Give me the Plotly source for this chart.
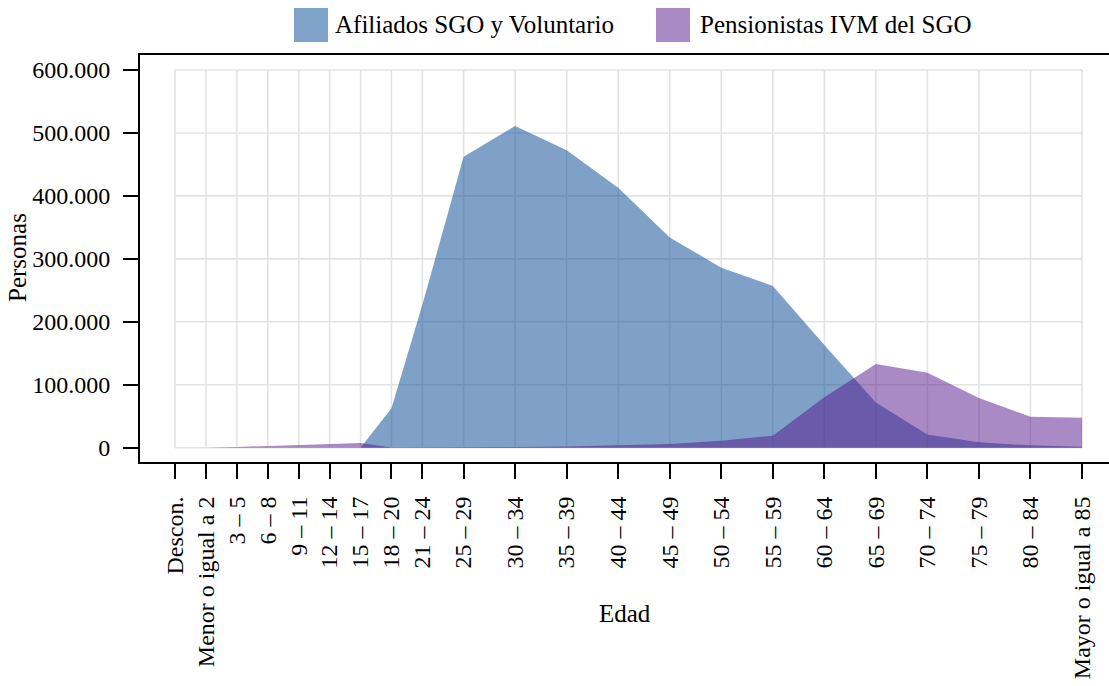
import plotly.graph_objects as go

# Grupos de edad (inicio del tramo en años; "Descon." va antes del 0)
grupos = ["Descon.", "Menor o igual a 2", "3 – 5", "6 – 8", "9 – 11", "12 – 14",
          "15 – 17", "18 – 20", "21 – 24", "25 – 29", "30 – 34", "35 – 39",
          "40 – 44", "45 – 49", "50 – 54", "55 – 59", "60 – 64", "65 – 69",
          "70 – 74", "75 – 79", "80 – 84", "Mayor o igual a 85"]
edad_inicio = [-3, 0, 3, 6, 9, 12, 15, 18, 21, 25, 30, 35, 40, 45, 50, 55,
               60, 65, 70, 75, 80, 85]

afiliados = [0, 0, 0, 0, 0, 0, 0, 62500, 227000, 462000, 511000, 472500,
             413000, 334000, 286000, 257000, 163000, 72000, 21000, 8500,
             3700, 1700]
pensionistas = [0, 0, 1200, 2500, 3900, 5800, 7500, 500, 400, 600, 1000,
                2000, 3500, 6000, 11000, 19000, 80000, 133000, 119000, 79000,
                49000, 47500]

y_ticks = [0, 100000, 200000, 300000, 400000, 500000, 600000]

FONT = "Liberation Serif"
AZUL = "rgba(0,68,145,0.5)"
MORADO = "rgba(83,21,137,0.5)"
AZUL_LEY = "#7fa2c8"
MORADO_LEY = "#a98ac4"

fig = go.Figure()
fig.add_trace(go.Scatter(x=edad_inicio, y=afiliados, mode="lines",
                         fill="tozeroy", fillcolor=AZUL,
                         line=dict(width=0, color=AZUL),
                         name="Afiliados SGO y Voluntario", showlegend=False))
fig.add_trace(go.Scatter(x=edad_inicio, y=pensionistas, mode="lines",
                         fill="tozeroy", fillcolor=MORADO,
                         line=dict(width=0, color=MORADO),
                         name="Pensionistas IVM del SGO", showlegend=False))

# Cuadrícula limitada al rango de los datos
shapes = []
x0, x1 = edad_inicio[0], edad_inicio[-1]
for v in y_ticks:
    shapes.append(dict(type="line", xref="x", yref="y", x0=x0, x1=x1, y0=v, y1=v,
                       line=dict(color="#e3e3e3", width=1.6), layer="below"))
for v in edad_inicio:
    shapes.append(dict(type="line", xref="x", yref="y", x0=v, x1=v,
                       y0=y_ticks[0], y1=y_ticks[-1],
                       line=dict(color="#e3e3e3", width=1.6), layer="below"))

# Leyenda superior
W, H, L, T = 969.0, 407.0, 140.0, 55.0
def px_x(p):
    return (p - L) / W
def px_y(p):
    return (T + H - p) / H

leyenda = [("Afiliados SGO y Voluntario", AZUL_LEY, 294, 333),
           ("Pensionistas IVM del SGO", MORADO_LEY, 656, 698)]
annotations = []
for texto, color, xs, xt in leyenda:
    shapes.append(dict(type="rect", xref="paper", yref="paper",
                       x0=px_x(xs), x1=px_x(xs + 34), y0=px_y(42), y1=px_y(8),
                       fillcolor=color, line=dict(width=0)))
    annotations.append(dict(text=texto, xref="paper", yref="paper",
                            x=px_x(xt), y=px_y(25), xanchor="left",
                            yanchor="middle", showarrow=False,
                            font=dict(family=FONT, size=25, color="black")))

annotations.append(dict(text="Edad", xref="paper", yref="paper", x=0.5,
                        y=px_y(613), xanchor="center", yanchor="middle",
                        showarrow=False,
                        font=dict(family=FONT, size=25, color="black")))
annotations.append(dict(text="Personas", xref="paper", yref="paper",
                        x=px_x(17), y=px_y(258), xanchor="center",
                        yanchor="middle", textangle=-90, showarrow=False,
                        font=dict(family=FONT, size=25, color="black")))

fig.update_layout(
    width=1109, height=686,
    margin=dict(l=140, r=0, t=55, b=224),
    paper_bgcolor="white", plot_bgcolor="white",
    separators=",.",
    font=dict(family=FONT, size=24, color="black"),
    shapes=shapes, annotations=annotations,
    showlegend=False,
    xaxis=dict(range=[-6.40, 87.62], tickmode="array", tickvals=edad_inicio,
               ticktext=grupos, tickangle=-90, showgrid=False, zeroline=False,
               showline=True, linecolor="black", linewidth=2, mirror=True,
               ticks="outside", ticklen=15, tickwidth=2, tickcolor="black",
               ticklabelstandoff=8,
               tickfont=dict(family=FONT, size=24, color="black")),
    yaxis=dict(range=[-22717, 623829], tickmode="array", tickvals=y_ticks,
               tickformat=",d", showgrid=False, zeroline=False,
               showline=True, linecolor="black", linewidth=2,
               ticks="outside", ticklen=15, tickwidth=2, tickcolor="black",
               ticklabelstandoff=8,
               tickfont=dict(family=FONT, size=24, color="black")),
)

fig.write_html("out.html")
